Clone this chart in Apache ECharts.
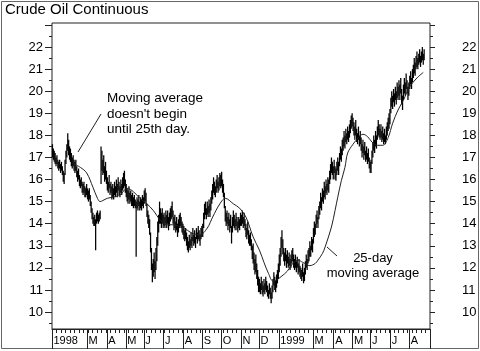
<!DOCTYPE html>
<html>
<head>
<meta charset="utf-8">
<script src="https://cdn.jsdelivr.net/npm/echarts@6/dist/echarts.min.js"></script>
<style>
  html, body { margin: 0; padding: 0; background: #fff; }
  #chart { width: 480px; height: 351px; }
</style>
</head>
<body>
<div id="chart"></div>
<script>
// time axis: one label per month, Feb has no label in the original
const monthLabels = ['1998', '', 'M', 'A', 'M', 'J', 'J', 'A', 'S', 'O', 'N', 'D',
                     '1999', '', 'M', 'A', 'M', 'J', 'J', 'A'];
// trading days in each month (Aug 1999 is only partly shown)
const monthDays = [20, 19, 22, 21, 20, 22, 22, 21, 21, 22, 20, 22,
                   19, 19, 23, 21, 20, 22, 21, 17];

// daily highs
const highs = [
  // Jan 98
  17.6, 17.4, 17.3, 17.2, 17.0, 17.1, 16.9, 16.8, 16.9, 16.7, 16.8, 16.6, 16.4, 16.3, 16.9, 17.3, 17.6, 18.1, 17.8, 17.5,
  // Feb
  17.4, 17.2, 17.0, 17.1, 16.9, 16.8, 16.9, 16.6, 16.4, 16.5, 16.2, 16.0, 16.1, 15.9, 15.8, 15.9, 15.7, 15.6, 15.8,
  // Mar
  15.6, 15.5, 15.6, 15.3, 15.0, 14.7, 14.5, 14.3, 14.4, 14.2, 14.5, 14.6, 14.4, 14.5, 14.6, 17.5, 17.3, 16.9, 17.1, 16.6, 16.8, 16.4,
  // Apr
  16.1, 15.9, 16.2, 15.8, 15.9, 15.7, 15.8, 15.6, 15.9, 15.7, 16.0, 15.8, 16.1, 15.9, 15.7, 16.0, 15.8, 16.1, 16.3, 16.4, 16.0,
  // May
  15.8, 15.6, 15.5, 15.7, 15.4, 15.5, 15.3, 15.4, 15.2, 15.3, 15.1, 15.0, 15.2, 15.1, 15.3, 15.0, 15.2, 15.1, 15.3, 15.2,
  // Jun
  15.5, 15.6, 15.4, 14.9, 14.6, 14.4, 14.2, 13.6, 12.9, 12.2, 12.4, 12.7, 12.3, 12.9, 13.4, 14.1, 14.4, 15.0, 14.7, 14.5, 14.7, 14.4,
  // Jul
  14.5, 14.3, 14.6, 14.4, 14.6, 14.3, 14.5, 14.7, 14.8, 15.0, 14.6, 14.3, 14.4, 14.1, 14.3, 14.0, 14.2, 14.4, 14.5, 14.3, 14.1, 14.0,
  // Aug
  13.9, 13.7, 13.8, 13.6, 13.4, 13.2, 13.5, 13.3, 13.6, 13.4, 13.8, 13.5, 13.7, 13.4, 13.8, 13.6, 13.9, 13.7, 13.5, 13.8, 13.9,
  // Sep
  14.0, 14.5, 14.9, 15.0, 14.7, 15.0, 14.8, 15.1, 14.9, 15.2, 15.5, 15.8, 16.1, 15.9, 15.7, 16.0, 16.2, 15.9, 16.1, 16.3, 16.2,
  // Oct
  16.35, 16.0, 15.8, 15.4, 14.8, 14.5, 14.6, 14.3, 14.5, 14.2, 14.4, 13.9, 14.3, 14.6, 14.4, 14.2, 14.5, 14.3, 14.1, 14.3, 14.2, 14.5,
  // Nov
  14.4, 14.6, 14.3, 14.5, 14.2, 14.0, 13.8, 14.1, 13.7, 13.5, 13.6, 13.3, 13.0, 13.1, 12.7, 12.4, 12.6, 12.2, 11.9, 11.6,
  // Dec
  11.5, 11.3, 11.6, 11.4, 11.2, 11.5, 11.3, 11.6, 11.4, 11.2, 11.0, 11.3, 11.1, 10.9, 11.2, 11.5, 11.8, 11.6, 11.4, 11.7, 11.9, 12.2,
  // Jan 99
  12.6, 12.9, 13.4, 13.7, 13.3, 12.9, 12.7, 12.9, 12.6, 12.8, 12.5, 12.7, 12.4, 12.6, 12.8, 12.9, 12.6, 12.4, 12.6,
  // Feb
  12.3, 12.5, 12.2, 12.4, 12.1, 12.0, 11.9, 12.2, 11.8, 12.0, 12.3, 12.6, 12.4, 12.8, 12.9, 13.2, 13.0, 13.4, 13.3,
  // Mar
  13.8, 14.1, 14.0, 14.4, 14.6, 14.3, 14.8, 15.0, 15.4, 15.2, 15.6, 15.5, 15.9, 15.7, 16.0, 15.8, 16.1, 16.0, 16.4, 16.7, 17.0, 16.8, 16.6,
  // Apr
  16.9, 16.6, 16.5, 16.8, 17.0, 16.8, 17.2, 17.5, 17.4, 17.8, 17.9, 18.2, 18.0, 18.3, 18.1, 18.4, 18.2, 18.5, 18.7, 18.9, 19.0,
  // May
  18.8, 18.6, 18.4, 18.7, 18.3, 18.1, 18.4, 18.0, 18.2, 17.9, 17.6, 17.8, 17.5, 17.7, 17.3, 17.5, 17.2, 17.4, 17.0, 16.8,
  // Jun
  16.9, 17.3, 17.7, 18.0, 17.8, 18.2, 18.0, 18.4, 18.7, 18.5, 18.3, 18.5, 18.2, 18.4, 18.1, 18.3, 18.0, 18.4, 18.6, 18.8, 19.0, 19.2,
  // Jul
  19.7, 20.0, 19.8, 20.1, 19.9, 20.2, 20.0, 20.4, 20.2, 20.5, 20.3, 20.6, 20.1, 19.8, 20.3, 20.6, 20.4, 20.8, 20.5, 20.2, 20.4,
  // Aug
  20.7, 20.9, 20.6, 21.0, 21.2, 21.5, 21.3, 21.6, 21.8, 21.5, 21.7, 21.9, 21.6, 21.8, 22.0, 21.7, 21.9
];

// daily lows
const lows = [
  // Jan 98
  17.0, 16.9, 16.8, 16.7, 16.6, 16.7, 16.5, 16.4, 16.5, 16.3, 16.4, 16.2, 15.9, 15.8, 16.2, 16.7, 17.0, 17.3, 17.1, 16.9,
  // Feb
  16.8, 16.6, 16.5, 16.6, 16.4, 16.3, 16.4, 16.1, 15.9, 16.0, 15.7, 15.6, 15.7, 15.4, 15.3, 15.4, 15.2, 15.2, 15.3,
  // Mar
  15.1, 15.0, 15.1, 14.8, 14.5, 14.2, 14.0, 13.9, 13.9, 12.8, 14.0, 14.1, 14.0, 14.1, 14.2, 15.8, 16.4, 16.2, 16.3, 15.9, 16.0, 15.8,
  // Apr
  15.5, 15.4, 15.6, 15.3, 15.4, 15.1, 15.2, 15.1, 15.3, 15.2, 15.4, 15.2, 15.5, 15.3, 15.2, 15.4, 15.3, 15.5, 15.6, 15.7, 15.4,
  // May
  15.2, 15.0, 14.9, 15.1, 14.9, 15.0, 14.8, 14.8, 14.7, 14.8, 14.7, 12.5, 14.7, 14.6, 14.8, 14.6, 14.7, 14.6, 14.8, 14.7,
  // Jun
  14.9, 15.0, 14.8, 14.3, 14.0, 13.8, 13.5, 12.7, 11.9, 11.35, 11.6, 11.8, 11.5, 11.9, 12.3, 13.0, 13.6, 14.0, 14.0, 13.8, 14.0, 13.8,
  // Jul
  13.9, 13.8, 14.0, 13.8, 14.0, 13.7, 13.9, 14.1, 14.2, 14.3, 14.0, 13.7, 13.8, 13.6, 13.7, 13.4, 13.6, 13.8, 13.9, 13.8, 13.6, 13.5,
  // Aug
  13.3, 13.2, 13.3, 13.0, 12.8, 12.7, 12.9, 12.8, 13.0, 12.9, 13.2, 13.0, 13.1, 12.9, 13.3, 13.1, 13.3, 13.2, 13.0, 13.3, 13.4,
  // Sep
  13.4, 13.8, 14.2, 14.4, 14.2, 14.4, 14.3, 14.5, 14.3, 14.6, 14.9, 15.1, 15.4, 15.3, 15.2, 15.4, 15.6, 15.4, 15.5, 15.7, 15.6,
  // Oct
  15.7, 15.4, 15.2, 14.7, 14.1, 13.9, 14.0, 13.7, 13.9, 13.6, 13.8, 13.1, 13.6, 13.9, 13.8, 13.7, 13.9, 13.7, 13.6, 13.8, 13.7, 13.9,
  // Nov
  13.9, 14.0, 13.8, 13.9, 13.7, 13.4, 13.3, 13.5, 13.1, 13.0, 13.0, 12.8, 12.4, 12.2, 11.9, 11.7, 11.8, 11.5, 11.2, 10.9,
  // Dec
  10.9, 10.8, 11.0, 10.8, 10.7, 10.9, 10.8, 11.0, 10.9, 10.7, 10.6, 10.8, 10.6, 10.4, 10.6, 10.9, 11.2, 11.0, 10.9, 11.1, 11.3, 11.5,
  // Jan 99
  11.8, 12.1, 12.5, 12.9, 12.6, 12.3, 12.1, 12.3, 12.0, 12.2, 12.0, 12.1, 11.9, 12.0, 12.2, 12.3, 12.0, 11.9, 12.0,
  // Feb
  11.8, 12.0, 11.7, 11.8, 11.6, 11.5, 11.4, 11.6, 11.3, 11.4, 11.7, 12.0, 11.9, 12.2, 12.3, 12.5, 12.5, 12.8, 12.7,
  // Mar
  13.1, 13.4, 13.5, 13.8, 14.0, 13.8, 14.2, 14.4, 14.7, 14.6, 15.0, 14.9, 15.2, 15.1, 15.4, 15.3, 15.5, 15.4, 15.8, 16.0, 16.3, 16.2, 16.0,
  // Apr
  16.3, 16.0, 15.95, 16.2, 16.4, 16.2, 16.6, 16.9, 16.8, 17.1, 17.3, 17.5, 17.4, 17.7, 17.6, 17.8, 17.7, 17.9, 18.1, 18.3, 18.4,
  // May
  18.2, 18.0, 17.8, 18.0, 17.7, 17.6, 17.8, 17.5, 17.6, 17.3, 17.0, 17.2, 16.9, 17.1, 16.8, 16.9, 16.7, 16.8, 16.5, 16.3,
  // Jun
  16.3, 16.7, 17.0, 17.3, 17.2, 17.5, 17.4, 17.8, 18.0, 17.9, 17.8, 17.9, 17.7, 17.8, 17.6, 17.7, 17.6, 17.8, 18.0, 18.2, 18.3, 18.5,
  // Jul
  19.0, 19.3, 19.2, 19.5, 19.3, 19.6, 19.4, 19.7, 19.6, 19.8, 19.6, 19.9, 19.4, 19.15, 19.6, 19.9, 19.8, 20.1, 19.9, 19.6, 19.8,
  // Aug
  20.1, 20.3, 20.1, 20.4, 20.6, 20.8, 20.7, 21.0, 21.1, 21.0, 21.2, 21.3, 21.1, 21.3, 21.4, 21.2, 21.4
];

// 25-day moving average (trading-day index, value)
const maDays = [24, 31, 38, 45, 50, 53, 56, 61, 67, 75, 83, 90, 97, 105, 112, 120, 127, 134, 142, 150,
                156, 164, 172, 178, 186, 192, 201, 208, 215, 223, 230, 235, 240, 245, 249, 254, 261, 267, 273, 278,
                286, 292, 295, 300, 303, 310, 314, 317, 321, 325, 328, 334, 340, 345, 350, 355, 361, 367, 373, 378,
                384, 390, 397, 405, 412];
const maValues = [16.7, 16.55, 16.3, 15.65, 15.15, 15.0, 15.05, 15.15, 15.2, 15.3, 15.6, 15.45, 15.15, 14.9, 14.6, 14.15, 13.95, 13.95, 13.85, 13.7,
                  13.55, 13.5, 13.8, 14.3, 14.9, 15.15, 14.9, 14.7, 14.3, 13.4, 12.8, 12.25, 11.75, 11.4, 11.45, 11.6, 11.85, 12.2, 12.35, 12.25,
                  12.1, 12.2, 12.35, 12.65, 12.95, 13.85, 14.6, 15.2, 15.95, 16.55, 17.2, 17.6, 17.9, 18.05, 17.95, 17.7, 17.55, 17.55, 17.9, 18.55,
                  19.15, 19.6, 20.2, 20.6, 20.85];

// price axis labels (both sides) and tick marks
const priceLabels = [10, 11, 12, 13, 14, 15, 16, 17, 18, 19, 20, 21, 22];
const majorTicks = [10, 11, 12, 13, 14, 15, 16, 17, 18, 19, 20, 21, 22, 23];
const minorTicks = [9.5, 10.5, 11.5, 12.5, 13.5, 14.5, 15.5, 16.5, 17.5, 18.5, 19.5, 20.5, 21.5, 22.5];

const FONT = '"Liberation Sans", Arial, Helvetica, sans-serif';
const SLOTS = 420; // trading-day slots on the axis, a few left empty at the right

let days = [];
for (let i = 0; i < SLOTS; i++) days.push(String(i));

// which slot starts a labelled month
let labelAt = {};
let start = 0;
monthDays.forEach((n, k) => {
  if (monthLabels[k]) labelAt[start] = monthLabels[k];
  start += n;
});

const bars = highs.map((h, i) => [i, lows[i], h]);
const ma = maDays.map((d, i) => [d, maValues[i]]);

const chart = echarts.init(document.getElementById('chart'), null, { renderer: 'canvas' });

function priceAxis(pos, ticks, tickLen, labels, margin) {
  return {
    type: 'value',
    position: pos,
    min: 9.23,
    max: 23.09,
    axisLine: { show: false },
    splitLine: { show: false },
    axisTick: { show: true, length: tickLen, customValues: ticks, lineStyle: { color: '#222' } },
    axisLabel: labels
      ? { show: true, customValues: labels, margin: margin, fontSize: 13, color: '#000', fontFamily: FONT }
      : { show: false }
  };
}

let options = {
  animation: false,
  backgroundColor: '#fff',
  grid: { left: 52, right: 50, top: 23, bottom: 22, show: true, borderColor: '#222', borderWidth: 1 },
  xAxis: [
    {
      type: 'category',
      data: days,
      position: 'bottom',
      boundaryGap: true,
      axisLine: { show: true, onZero: false, lineStyle: { color: '#222' } },
      // weekly ticks
      axisTick: { show: true, length: 4, interval: (i) => i % 5 === 0, lineStyle: { color: '#222' } },
      axisLabel: {
        interval: (i) => labelAt[i] !== undefined,
        formatter: (v, i) => labelAt[i] || '',
        align: 'left',
        padding: [0, 0, 0, 1],
        margin: 6,
        fontSize: 11,
        color: '#000',
        fontFamily: FONT
      },
      splitLine: { show: false }
    },
    {
      // month separators running down through the label row
      type: 'category',
      data: days,
      position: 'bottom',
      boundaryGap: true,
      axisLine: { show: false, onZero: false },
      axisTick: { show: true, length: 20, interval: (i) => labelAt[i] !== undefined, lineStyle: { color: '#222' } },
      axisLabel: { show: false },
      splitLine: { show: false }
    }
  ],
  yAxis: [
    priceAxis('left', majorTicks, 7, priceLabels, 9),
    priceAxis('right', majorTicks, 5, priceLabels, 32),
    priceAxis('left', minorTicks, 3, null, 0),
    priceAxis('right', minorTicks, 3, null, 0)
  ],
  series: [
    {
      name: 'Crude Oil',
      type: 'custom',
      xAxisIndex: 0,
      yAxisIndex: 0,
      data: bars,
      encode: { x: 0, y: [1, 2] },
      renderItem: function (params, api) {
        const lo = api.coord([api.value(0), api.value(1)]);
        const hi = api.coord([api.value(0), api.value(2)]);
        return {
          type: 'line',
          shape: { x1: lo[0], y1: lo[1], x2: hi[0], y2: hi[1] },
          style: { stroke: '#000', lineWidth: 1.25 }
        };
      }
    },
    {
      name: '25-day MA',
      type: 'line',
      xAxisIndex: 0,
      yAxisIndex: 0,
      data: ma,
      symbol: 'none',
      smooth: 0.35,
      z: 3,
      lineStyle: { color: '#222', width: 1 }
    }
  ],
  graphic: [
    {
      type: 'rect',
      shape: { x: 1.5, y: 1.5, width: 477, height: 347 },
      style: { fill: 'none', stroke: '#666', lineWidth: 1 },
      silent: true
    },
    {
      type: 'text',
      x: 5, y: 10,
      style: { text: 'Crude Oil Continuous', font: '15px ' + FONT, fill: '#000', verticalAlign: 'middle' }
    },
    {
      type: 'text',
      x: 107, y: 91,
      style: {
        text: "Moving average\ndoesn't begin\nuntil 25th day.",
        font: '13.5px ' + FONT, lineHeight: 15.5, fill: '#000', verticalAlign: 'top'
      }
    },
    {
      type: 'line',
      shape: { x1: 101, y1: 114, x2: 78, y2: 152 },
      style: { stroke: '#222', lineWidth: 1 }
    },
    {
      type: 'text',
      x: 373, y: 250.5,
      style: {
        text: '25-day\nmoving average',
        font: '13px ' + FONT, lineHeight: 15, fill: '#000', align: 'center', verticalAlign: 'top'
      }
    },
    {
      type: 'line',
      shape: { x1: 327, y1: 247, x2: 337, y2: 256 },
      style: { stroke: '#222', lineWidth: 1 }
    }
  ]
};

chart.setOption(options);
</script>
</body>
</html>
